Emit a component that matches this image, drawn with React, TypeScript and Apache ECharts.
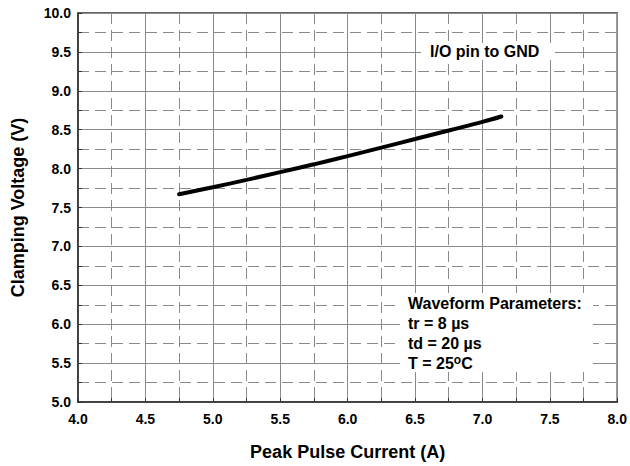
import React, { useEffect, useRef } from "react";
import * as echarts from "echarts";

// Data
const currentA = [4.75, 5.0, 5.25, 5.5, 5.75, 6.0, 6.25, 6.5, 6.75, 7.0, 7.14];
const clampV = [7.67, 7.76, 7.855, 7.955, 8.055, 8.16, 8.27, 8.38, 8.49, 8.6, 8.67];

const xRange = [4, 8];
const yRange = [5, 10];
const majorStep = 0.5;

const xName = "Peak Pulse Current (A)";
const yName = "Clamping Voltage (V)";
const noteTop = "I/O pin to GND";
const noteLines = ["Waveform Parameters:", "tr = 8 µs", "td = 20 µs", "T = 25{sup|o}C"];

const FONT = "Arial, 'Liberation Sans', Helvetica, sans-serif";

export default function App() {
  const ref = useRef<HTMLDivElement>(null);

  useEffect(() => {
    document.body.style.margin = "0";
    if (!ref.current) return;
    const chart = echarts.init(ref.current, undefined, { renderer: "svg" });

    const gridLine = "#8a8a8a";
    const axisDark = "#333333";

    const commonAxis = {
      type: "value" as const,
      interval: majorStep,
      axisLine: { show: true, onZero: false, lineStyle: { color: axisDark, width: 1.5 } },
      axisTick: { show: true, inside: true, length: 4, lineStyle: { color: axisDark } },
      minorTick: { show: true, splitNumber: 2, length: 4, lineStyle: { color: axisDark } },
      splitLine: { show: true, lineStyle: { color: gridLine, width: 1, type: "solid" as const } },
      minorSplitLine: { show: true, lineStyle: { color: gridLine, width: 1, type: [11, 6] } },
      axisLabel: {
        color: "#000",
        fontSize: 14,
        fontWeight: "bold" as const,
        fontFamily: FONT,
        formatter: (v: number) => v.toFixed(1),
      },
      nameLocation: "middle" as const,
      nameTextStyle: { color: "#000", fontSize: 18, fontWeight: "bold" as const, fontFamily: FONT },
    };

    chart.setOption({
      animation: false,
      backgroundColor: "#ffffff",
      textStyle: { fontFamily: FONT },
      grid: {
        left: 78,
        right: 11,
        top: 13,
        bottom: 64,
        show: true,
        borderColor: axisDark,
        borderWidth: 1.5,
        backgroundColor: "transparent",
      },
      xAxis: {
        ...commonAxis,
        min: xRange[0],
        max: xRange[1],
        name: xName,
        nameGap: 41,
        axisLabel: { ...commonAxis.axisLabel, margin: 10 },
      },
      yAxis: {
        ...commonAxis,
        min: yRange[0],
        max: yRange[1],
        name: yName,
        nameGap: 51,
        axisLabel: { ...commonAxis.axisLabel, margin: 7 },
      },
      series: [
        {
          type: "line",
          data: currentA.map((x, i) => [x, clampV[i]]),
          showSymbol: false,
          symbol: "none",
          smooth: 0.4,
          lineStyle: { color: "#000", width: 4, cap: "round" },
          z: 5,
        },
      ],
      graphic: [
        {
          type: "rect",
          z: 50,
          shape: { x: 421, y: 43, width: 134, height: 17 },
          style: { fill: "#ffffff" },
        },
        {
          type: "text",
          z: 51,
          x: 430,
          y: 51.5,
          style: {
            text: noteTop,
            fontSize: 16,
            fontWeight: "bold",
            fontFamily: FONT,
            fill: "#000",
            verticalAlign: "middle",
          },
        },
        {
          type: "rect",
          z: 50,
          shape: { x: 400, y: 293, width: 193, height: 79 },
          style: { fill: "#ffffff" },
        },
        {
          type: "text",
          z: 51,
          x: 408,
          y: 293.5,
          style: {
            text: noteLines.join("\n"),
            fontSize: 16,
            fontWeight: "bold",
            fontFamily: FONT,
            lineHeight: 20,
            fill: "#000",
            verticalAlign: "top",
            rich: {
              sup: {
                fontSize: 12,
                fontWeight: "bold",
                fontFamily: FONT,
                fill: "#000",
                verticalAlign: "top",
                lineHeight: 20,
              },
            },
          },
        },
      ],
    });

    return () => {
      chart.dispose();
    };
  }, []);

  return <div ref={ref} style={{ width: 630, height: 466, position: "absolute", left: 0, top: 0 }} />;
}
